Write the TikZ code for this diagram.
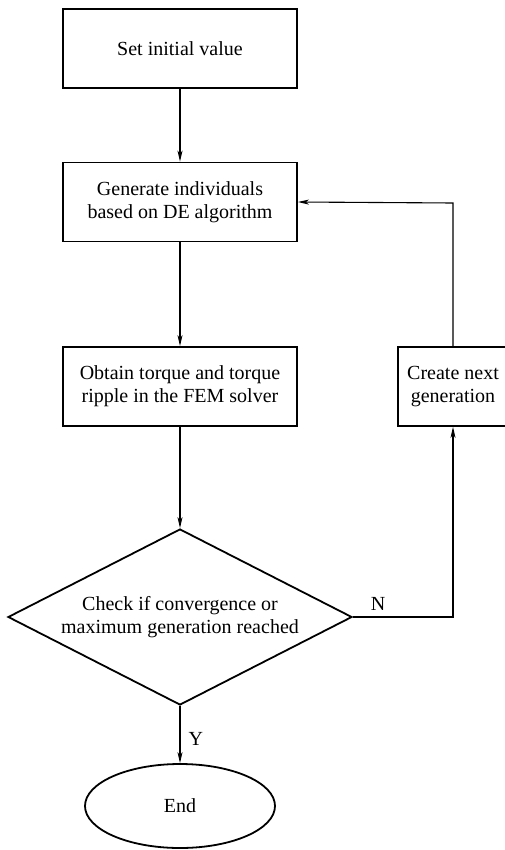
\documentclass[tikz,border=0pt]{standalone}
\usepackage{fontspec}
\setmainfont{Liberation Serif}
\usetikzlibrary{shapes.geometric,arrows.meta}
\begin{document}
\begin{tikzpicture}[x=1pt,y=-1pt,
  every node/.style={font=\fontsize{20}{23}\selectfont},
  procbox/.style={draw,line width=1.8pt,rectangle,minimum width=234pt,minimum height=79pt,align=center,inner sep=2pt},
  sidebox/.style={draw,line width=1.8pt,rectangle,minimum width=110pt,minimum height=79pt,align=center,inner sep=2pt},
  decision/.style={draw,line width=1.8pt,diamond,minimum width=344pt,minimum height=176pt,aspect=1.955,inner sep=0pt,align=center},
  terminal/.style={draw,line width=1.8pt,ellipse,minimum width=190pt,minimum height=84pt,inner sep=0pt},
  conn/.style={line width=1.1pt,-{Stealth[length=11pt,width=5pt,inset=3pt]}},
  lbl/.style={inner sep=0pt}]
\useasboundingbox (0,0) rectangle (504,850);
\fill[white] (0,0) rectangle (504,850);
\node[procbox] (b1) at (180,48.5) {Set initial value};
\node[procbox] (b2) at (180,202) {Generate individuals\\based on DE algorithm};
\node[procbox] (b3) at (180,386.5) {Obtain torque and torque\\ripple in the FEM solver};
\node[sidebox] (r) at (453,386.5) {Create next\\generation};
\node[decision] (d) at (180,617) {Check if convergence or\\maximum generation reached};
\node[terminal] (e) at (180,806) {End};
\coordinate (cn) at (453,617);
\coordinate (ct) at (453,203);
\draw[conn] (b1.south) -- (b2.north);
\draw[conn] (b2.south) -- (b3.north);
\draw[conn] (b3.south) -- (d.north);
\draw[conn] (d.south) -- node[lbl,right,xshift=8pt,yshift=-4pt]{Y} (e.north);
\draw[conn] (d.east) -- (cn) -- (r.south);
\draw[conn] (r.north) -- (ct) -- (b2.east);
\node[lbl] (nl) at (378,604) {N};
\end{tikzpicture}
\end{document}
